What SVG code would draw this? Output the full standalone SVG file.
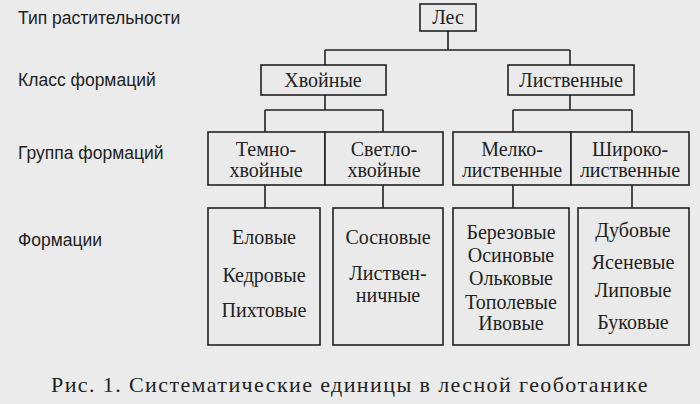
<svg xmlns="http://www.w3.org/2000/svg" width="700" height="404" viewBox="0 0 700 404">
<style>
text{font-family:"Liberation Serif","DejaVu Serif",serif;font-size:20px;fill:#222;text-anchor:middle}
.l{text-anchor:start;font-family:"Liberation Sans","DejaVu Sans",sans-serif;font-size:17.5px}
rect{fill:#eaeaea;stroke:#222;stroke-width:1.6}
.c{fill:none;stroke:#222;stroke-width:1.6}
</style>
<rect x="0" y="0" width="700" height="404" style="fill:#ebebeb;stroke:none"/>
<g id="labels">
<text class="l" x="18" y="24">Тип растительности</text>
<text class="l" x="18" y="86">Класс формаций</text>
<text class="l" x="18" y="159">Группа формаций</text>
<text class="l" x="18" y="246">Формации</text>
<text x="350" y="392" style="font-size:22px;letter-spacing:1.4px">Рис. 1. Систематические  единицы в лесной геоботанике</text>
</g>
<g id="connectors">
<path class="c" d="M448 31V50M325 50H570M325 50V65M570 50V65M325 95V110M265 110H383M265 110V132M383 110V132M570 95V110M513 110H632M513 110V132M632 110V132M265 185V208M383 185V208M513 185V208M632 185V208"/>
</g>
<g id="les"><rect x="420" y="4" width="56" height="27"/><text x="448" y="24">Лес</text></g>
<g id="hvoinye"><rect x="261" y="65" width="125" height="30"/><text x="323" y="87">Хвойные</text></g>
<g id="listvennye"><rect x="508" y="65" width="126" height="30"/><text x="571" y="87">Лиственные</text></g>
<g id="temno"><rect x="208" y="132" width="117" height="53"/><text x="266" y="156">Темно-</text><text x="266" y="177">хвойные</text></g>
<g id="svetlo"><rect x="325" y="132" width="118" height="53"/><text x="384" y="156">Светло-</text><text x="384" y="177">хвойные</text></g>
<g id="melko"><rect x="453" y="132" width="118" height="53"/><text x="512" y="156">Мелко-</text><text x="512" y="177">лиственные</text></g>
<g id="shiroko"><rect x="571" y="132" width="118" height="53"/><text x="630" y="156">Широко-</text><text x="630" y="177">лиственные</text></g>
<g id="f1"><rect x="208" y="208" width="112" height="137"/><text x="264" y="244">Еловые</text><text x="264" y="282">Кедровые</text><text x="264" y="317">Пихтовые</text></g>
<g id="f2"><rect x="333" y="208" width="110" height="137"/><text x="388" y="244">Сосновые</text><text x="388" y="280">Листвен-</text><text x="388" y="302">ничные</text></g>
<g id="f3"><rect x="453" y="208" width="116" height="137"/><text x="511" y="239">Березовые</text><text x="511" y="262">Осиновые</text><text x="511" y="285">Ольковые</text><text x="511" y="309">Тополевые</text><text x="511" y="330">Ивовые</text></g>
<g id="f4"><rect x="578" y="208" width="111" height="137"/><text x="633" y="237">Дубовые</text><text x="633" y="269">Ясеневые</text><text x="633" y="297">Липовые</text><text x="633" y="329">Буковые</text></g>
</svg>
